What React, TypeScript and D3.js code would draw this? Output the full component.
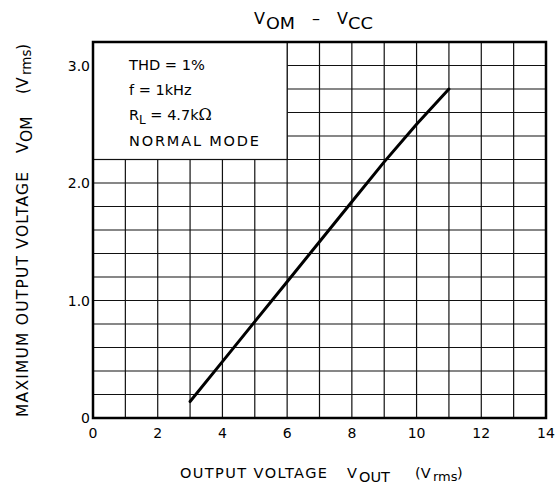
import * as d3 from "d3";

const W = 560;
const H = 487;
const MARGIN = { top: 42, right: 14, bottom: 69, left: 93 };

// V_CC (x) and V_OM (y)
const vcc = [3, 4, 5, 6, 7, 8, 9, 10, 11];
const vom = [0.14, 0.48, 0.82, 1.16, 1.5, 1.84, 2.18, 2.5, 2.8];

const xTicks = [0, 2, 4, 6, 8, 10, 12, 14];
const yTicks = [0, 1, 2, 3];
const yTickLabels = ["0", "1.0", "2.0", "3.0"];

const FONT = "'DejaVu Sans', 'Open Sans', sans-serif";

export default function App() {
  const x = d3.scaleLinear().domain([0, 14]).range([MARGIN.left, W - MARGIN.right]);
  const y = d3.scaleLinear().domain([0, 3.2]).range([H - MARGIN.bottom, MARGIN.top]);

  const xGrid = d3.range(0, 15, 1);
  const yGrid = d3.range(0, 16, 1).map((i) => i * 0.2);

  const line = d3
    .line<number>()
    .x((_, i) => x(vcc[i]))
    .y((d) => y(d));

  // condition box covers the grid from 0..6 V and 2.2..3.2 V
  const lx0 = x(0);
  const lx1 = x(6);
  const ly0 = y(3.2);
  const ly1 = y(2.2);
  const tx = lx0 + 36;

  return (
    <svg
      width={W}
      height={H}
      style={{ position: "absolute", left: 0, top: 0, background: "#fff" }}
      fontFamily={FONT}
      fill="#000"
    >
      {/* grid */}
      {xGrid.map((v) => (
        <line key={"gx" + v} x1={x(v)} x2={x(v)} y1={y(0)} y2={y(3.2)} stroke="#111" strokeWidth={1.2} />
      ))}
      {yGrid.map((v, i) => (
        <line key={"gy" + i} x1={x(0)} x2={x(14)} y1={y(v)} y2={y(v)} stroke="#111" strokeWidth={1.2} />
      ))}

      {/* condition box */}
      <rect x={lx0} y={ly0} width={lx1 - lx0} height={ly1 - ly0} fill="#fff" stroke="#111" strokeWidth={1.2} />
      <text x={tx} y={ly0 + 28} fontSize={14.5} textLength={76} lengthAdjust="spacingAndGlyphs">THD = 1%</text>
      <text x={tx} y={ly0 + 53} fontSize={14.5}>f = 1kHz</text>
      <text x={tx} y={ly0 + 78} fontSize={14.5}>
        R<tspan fontSize={12} dy={4}>L</tspan>
        <tspan dy={-4}> = 4.7k</tspan>
        <tspan fontFamily="'DejaVu Serif', serif" fontSize={16}>Ω</tspan>
      </text>
      <text x={tx} y={ly0 + 104} fontSize={14.5} textLength={130} lengthAdjust="spacing">NORMAL  MODE</text>

      {/* curve */}
      <path d={line(vom) ?? ""} fill="none" stroke="#000" strokeWidth={3} strokeLinecap="round" />

      {/* frame */}
      <rect
        x={x(0)}
        y={y(3.2)}
        width={x(14) - x(0)}
        height={y(0) - y(3.2)}
        fill="none"
        stroke="#000"
        strokeWidth={2.5}
      />

      {/* x tick labels */}
      {xTicks.map((v) => (
        <text key={"xt" + v} x={x(v)} y={y(0) + 20} fontSize={14} textAnchor="middle">
          {v}
        </text>
      ))}
      {/* y tick labels */}
      {yTicks.map((v, i) => (
        <text key={"yt" + v} x={x(0) - 3} y={y(v) + 5} fontSize={14} textAnchor="end">
          {yTickLabels[i]}
        </text>
      ))}

      {/* title */}
      <text x={254} y={24} fontSize={16}>V</text>
      <text x={266} y={29} fontSize={16} textLength={29} lengthAdjust="spacingAndGlyphs">OM</text>
      <text x={316} y={24} fontSize={16} textAnchor="middle">–</text>
      <text x={337} y={24} fontSize={16}>V</text>
      <text x={348} y={29} fontSize={16} textLength={25} lengthAdjust="spacingAndGlyphs">CC</text>

      {/* x axis title */}
      <text x={180} y={478} fontSize={14.5} textLength={147} lengthAdjust="spacing">OUTPUT VOLTAGE</text>
      <text x={347} y={478} fontSize={14.5}>V</text>
      <text x={359} y={482} fontSize={14.5}>OUT</text>
      <text x={415} y={478} fontSize={14.5}>(V</text>
      <text x={433} y={481} fontSize={13}>rms</text>
      <text x={457} y={478} fontSize={14.5}>)</text>

      {/* y axis title */}
      <g transform="translate(28, 0) rotate(-90)">
        <text x={-417} y={0} fontSize={15.5} textLength={245} lengthAdjust="spacing">
          MAXIMUM OUTPUT VOLTAGE
        </text>
        <text x={-153} y={0} fontSize={15.5}>V</text>
        <text x={-142} y={4} fontSize={15.5}>OM</text>
        <text x={-94} y={0} fontSize={15.5}>(V</text>
        <text x={-75} y={3} fontSize={13.5}>rms</text>
        <text x={-50} y={0} fontSize={15.5}>)</text>
      </g>
    </svg>
  );
}
